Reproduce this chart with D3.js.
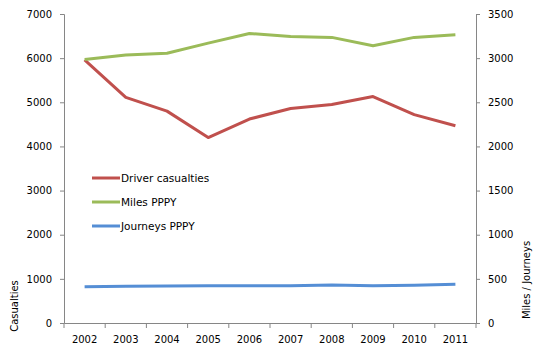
<!DOCTYPE html>
<html><head><meta charset="utf-8">
<script src="https://cdn.jsdelivr.net/npm/d3@7"></script>
<style>body{margin:0;background:#fff}svg{display:block}text{font-family:"DejaVu Sans",sans-serif;font-size:10px;fill:#000}</style>
</head><body><svg id="c" width="535" height="355"></svg>
<script>
const years = ["2002","2003","2004","2005","2006","2007","2008","2009","2010","2011"];
const driverCasualties = [5960,5110,4800,4200,4620,4860,4950,5130,4720,4470];
const milesPPPY = [2985,3035,3055,3170,3280,3245,3235,3140,3235,3265];
const journeysPPPY = [412,415,420,422,422,422,430,422,428,440];
const leftTicks = [0,1000,2000,3000,4000,5000,6000,7000];
const rightTicks = [0,500,1000,1500,2000,2500,3000,3500];

const svg = d3.select("#c");
const L=64, R=476, T=14, B=323;
const x = d3.scaleBand().domain(years).range([L,R]);
const yL = d3.scaleLinear().domain([0,7000]).range([B,T]);
const yR = d3.scaleLinear().domain([0,3500]).range([B,T]);
const axisColor="#868686";
const fmt = d3.format("d");

function style(g){g.selectAll("path,line").attr("stroke",axisColor);}
const ga = svg.append("g").attr("transform",`translate(${L},0)`).call(d3.axisLeft(yL).tickValues(leftTicks).tickFormat(fmt).tickSize(4).tickSizeOuter(4).tickPadding(8));
style(ga);
const gb = svg.append("g").attr("transform",`translate(${R},0)`).call(d3.axisRight(yR).tickValues(rightTicks).tickFormat(fmt).tickSize(4).tickSizeOuter(4).tickPadding(8));
style(gb);
const gx = svg.append("g").attr("transform",`translate(0,${B})`).call(d3.axisBottom(x).tickSize(0).tickPadding(13));
gx.select(".domain").attr("stroke",axisColor);
gx.selectAll(".tick line").remove();
const bounds = years.map(d=>x(d)).concat([R]);
gx.selectAll(".bt").data(bounds).enter().append("line").attr("x1",d=>d).attr("x2",d=>d).attr("y1",0).attr("y2",5).attr("stroke",axisColor);
svg.selectAll("text").style("font-size","10px");

const cx = d=>x(d)+x.bandwidth()/2;
const series = [
 {name:"Driver casualties", vals:driverCasualties, y:yL, color:"#C0504D"},
 {name:"Miles PPPY", vals:milesPPPY, y:yR, color:"#9BBB59"},
 {name:"Journeys PPPY", vals:journeysPPPY, y:yR, color:"#558ED5"}
];
series.forEach(s=>{
  const line = d3.line().x((d,i)=>cx(years[i])).y(d=>s.y(d));
  svg.append("path").attr("d",line(s.vals)).attr("fill","none").attr("stroke",s.color).attr("stroke-width",3).attr("stroke-linejoin","round");
});
series.forEach((s,i)=>{
  const ly = 178+i*24;
  svg.append("line").attr("x1",92).attr("x2",120).attr("y1",ly).attr("y2",ly).attr("stroke",s.color).attr("stroke-width",3);
  svg.append("text").attr("x",121).attr("y",ly).attr("dy","0.35em").style("font-size","10.5px").text(s.name);
});
svg.append("text").attr("transform","translate(18,306) rotate(-90)").attr("text-anchor","middle").text("Casualties");
svg.append("text").attr("transform","translate(530,280) rotate(-90)").attr("text-anchor","middle").text("Miles / Journeys");
</script></body></html>
